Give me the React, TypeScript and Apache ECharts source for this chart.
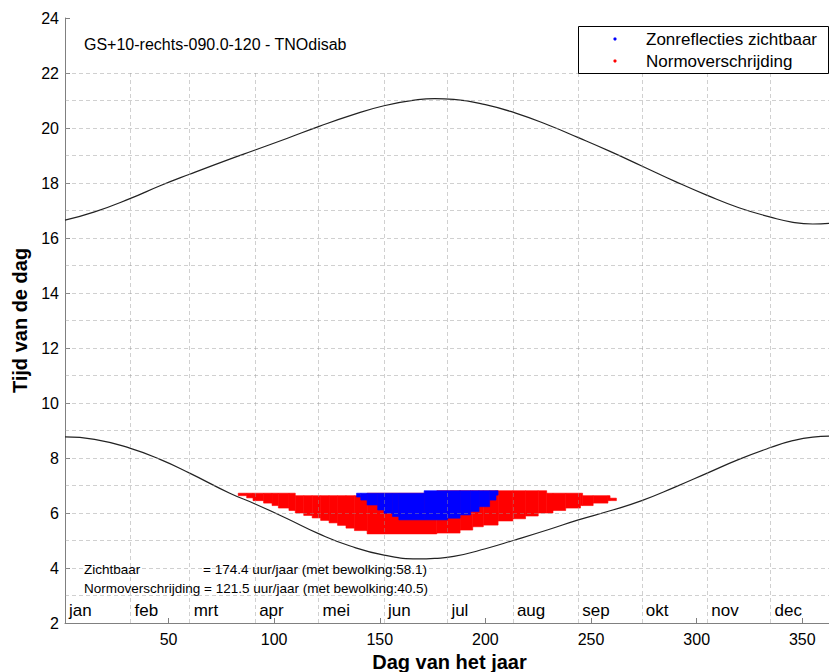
import React, { useEffect, useRef } from "react";
import * as echarts from "echarts";

// ---- data ----
const curveDays = [1, 15, 32, 46, 60, 79, 91, 106, 121, 136, 152, 168, 176, 185, 200, 214, 230, 244, 259, 274, 290, 305, 320, 335, 345, 355, 365];
const sunsetHours = [16.65, 16.95, 17.44, 17.9, 18.32, 18.87, 19.2, 19.62, 20.05, 20.45, 20.81, 21.03, 21.07, 21.04, 20.85, 20.55, 20.1, 19.65, 19.15, 18.62, 18.05, 17.55, 17.1, 16.76, 16.58, 16.51, 16.55];
const sunriseHours = [8.77, 8.68, 8.35, 7.95, 7.45, 6.72, 6.33, 5.8, 5.25, 4.8, 4.47, 4.33, 4.35, 4.42, 4.7, 5.02, 5.4, 5.75, 6.08, 6.45, 6.95, 7.45, 7.95, 8.38, 8.62, 8.76, 8.8];

const redStart = [83, 87, 90, 95, 99, 102, 107, 110, 114, 118, 122, 126, 130, 134, 138, 144, 177, 188, 194, 199, 206, 213, 219, 225, 229, 232, 238, 245, 246, 251, 258, 259];
const redEndDay = 262;
const redLow = [6.63, 6.55, 6.45, 6.36, 6.27, 6.18, 6.09, 6.0, 5.91, 5.82, 5.73, 5.64, 5.55, 5.45, 5.36, 5.24, 5.27, 5.38, 5.5, 5.56, 5.71, 5.79, 5.89, 6.0, 6.0, 6.09, 6.18, 6.27, 6.27, 6.36, 6.45, 6.45];
const redHigh = [6.72, 6.72, 6.72, 6.72, 6.72, 6.72, 6.72, 6.63, 6.63, 6.63, 6.63, 6.63, 6.63, 6.63, 6.63, 6.72, 6.81, 6.81, 6.81, 6.81, 6.81, 6.81, 6.81, 6.81, 6.72, 6.72, 6.72, 6.72, 6.63, 6.63, 6.63, 6.54];

const blueStart = [139, 141, 144, 149, 152, 156, 159, 171, 182, 188, 193, 197, 202, 205];
const blueEndDay = 206;
const blueLow = [6.58, 6.47, 6.29, 6.11, 5.99, 5.87, 5.75, 5.75, 5.81, 5.93, 6.05, 6.23, 6.47, 6.65];
const blueHigh = [6.72, 6.72, 6.72, 6.72, 6.72, 6.72, 6.72, 6.81, 6.81, 6.81, 6.81, 6.81, 6.81, 6.81];

const monthStarts = [1, 32, 60, 91, 121, 152, 182, 213, 244, 274, 305, 335];
const monthNames = ["jan", "feb", "mrt", "apr", "mei", "jun", "jul", "aug", "sep", "okt", "nov", "dec"];
const monthLabelHour = 2.45;
const gridHours = [3, 4, 5, 6, 7, 8, 9, 10, 11, 12, 13, 14, 15, 16, 17, 18, 19, 20, 21, 22];
const gridTopHour = 22;
const xTicks = [50, 100, 150, 200, 250, 300, 350];

const titleText = "GS+10-rechts-090.0-120 - TNOdisab";
const legendNames = ["Zonreflecties zichtbaar", "Normoverschrijding"];
const note1a = "Zichtbaar";
const note1b = "= 174.4 uur/jaar (met bewolking:58.1)";
const note2 = "Normoverschrijding = 121.5 uur/jaar (met bewolking:40.5)";

const FONT = '"Liberation Sans", Arial, sans-serif';

function blocks(start: number[], end: number, low: number[], high: number[]) {
  return start.map((s, i) => [s, i + 1 < start.length ? start[i + 1] : end, low[i], high[i]]);
}

function blockSeries(data: number[][], color: string, z: number) {
  return {
    type: "custom",
    z,
    data,
    encode: { x: [0, 1], y: [2, 3] },
    renderItem: (params: any, api: any) => {
      const p1 = api.coord([api.value(0), api.value(3)]);
      const p2 = api.coord([api.value(1), api.value(2)]);
      return {
        type: "rect",
        shape: { x: p1[0], y: p1[1], width: p2[0] - p1[0], height: p2[1] - p1[1] },
        style: { fill: color, stroke: color, lineWidth: 0.6 },
      };
    },
  };
}

export default function App() {
  const ref = useRef<HTMLDivElement>(null);
  useEffect(() => {
    if (!ref.current) return;
    const chart = echarts.init(ref.current, null, { renderer: "svg" });
    const axisGray = "#808080";
    const gridLines: any[] = [];
    monthStarts.slice(1).forEach((m) => gridLines.push([{ coord: [m, 2] }, { coord: [m, gridTopHour] }]));
    gridHours.forEach((h) => gridLines.push([{ coord: [1, h] }, { coord: [365, h] }]));

    const option: any = {
      animation: false,
      textStyle: { fontFamily: FONT },
      grid: { left: 65, right: -5, top: 18, bottom: 49, outerBoundsMode: "none", containLabel: false },
      xAxis: {
        type: "value",
        min: 1,
        max: 365,
        name: "Dag van het jaar",
        nameLocation: "middle",
        nameGap: 29,
        nameTextStyle: { fontSize: 20, fontWeight: "bold", color: "#000", fontFamily: FONT },
        axisLine: { show: true, onZero: false, lineStyle: { color: axisGray } },
        axisTick: { show: true, inside: true, length: 5, customValues: xTicks, lineStyle: { color: axisGray } },
        axisLabel: { customValues: xTicks, fontSize: 16, color: "#000", margin: 8, fontFamily: FONT },
        splitLine: { show: false },
      },
      yAxis: {
        type: "value",
        min: 2,
        max: 24,
        interval: 2,
        name: "Tijd van de dag",
        nameLocation: "middle",
        nameGap: 32,
        nameTextStyle: { fontSize: 20, fontWeight: "bold", color: "#000", fontFamily: FONT },
        axisLine: { show: true, lineStyle: { color: axisGray } },
        axisTick: { show: true, inside: true, length: 5, lineStyle: { color: axisGray } },
        axisLabel: { fontSize: 16, color: "#000", margin: 6, fontFamily: FONT },
        splitLine: { show: false },
      },
      series: [
        blockSeries(blocks(redStart, redEndDay, redLow, redHigh), "#ff0000", 2),
        blockSeries(blocks(blueStart, blueEndDay, blueLow, blueHigh), "#0000ff", 3),
        {
          type: "line",
          z: 4,
          data: curveDays.map((d, i) => [d, sunsetHours[i]]),
          showSymbol: false,
          smooth: 0.5,
          lineStyle: { color: "#222", width: 1.2 },
          markLine: {
            silent: true,
            symbol: ["none", "none"],
            label: { show: false },
            lineStyle: { color: "rgba(150,150,150,0.45)", type: [4, 3], width: 1 },
            data: gridLines,
          },
        },
        {
          type: "line",
          z: 4,
          data: curveDays.map((d, i) => [d, sunriseHours[i]]),
          showSymbol: false,
          smooth: 0.5,
          lineStyle: { color: "#222", width: 1.2 },
        },
        {
          type: "custom",
          z: 5,
          data: monthStarts.map((d) => [d, monthLabelHour]),
          encode: { x: 0, y: 1 },
          renderItem: (params: any, api: any) => {
            const p = api.coord([api.value(0), api.value(1)]);
            return {
              type: "text",
              x: p[0] + 4,
              y: p[1],
              style: {
                text: monthNames[params.dataIndex],
                fill: "#000",
                font: `17px ${FONT}`,
                align: "left",
                verticalAlign: "middle",
              },
            };
          },
        },
      ],
      graphic: [
        { type: "text", left: 84, top: 36, style: { text: titleText, fill: "#000", font: `16px ${FONT}` } },
        { type: "rect", left: 578, top: 26, shape: { width: 250, height: 47 }, style: { fill: "#fff", stroke: "#000", lineWidth: 1 }, z: 10 },
        { type: "circle", x: 615, y: 39, shape: { r: 1.6 }, style: { fill: "#0000ff" }, z: 11 },
        { type: "circle", x: 615, y: 61, shape: { r: 1.6 }, style: { fill: "#ff0000" }, z: 11 },
        { type: "text", x: 646, y: 39, style: { text: legendNames[0], fill: "#000", font: `17px ${FONT}`, verticalAlign: "middle" }, z: 11 },
        { type: "text", x: 646, y: 61, style: { text: legendNames[1], fill: "#000", font: `17px ${FONT}`, verticalAlign: "middle" }, z: 11 },
        { type: "text", x: 84, y: 569, style: { text: note1a, fill: "#000", font: `13.5px ${FONT}`, verticalAlign: "middle" }, z: 11 },
        { type: "text", x: 203, y: 569, style: { text: note1b, fill: "#000", font: `13.5px ${FONT}`, verticalAlign: "middle" }, z: 11 },
        { type: "text", x: 84, y: 588, style: { text: note2, fill: "#000", font: `13.5px ${FONT}`, verticalAlign: "middle" }, z: 11 },
      ],
    };
    chart.setOption(option);
    return () => chart.dispose();
  }, []);
  return <div ref={ref} style={{ width: 829, height: 672, position: "absolute", left: 0, top: 0 }} />;
}
